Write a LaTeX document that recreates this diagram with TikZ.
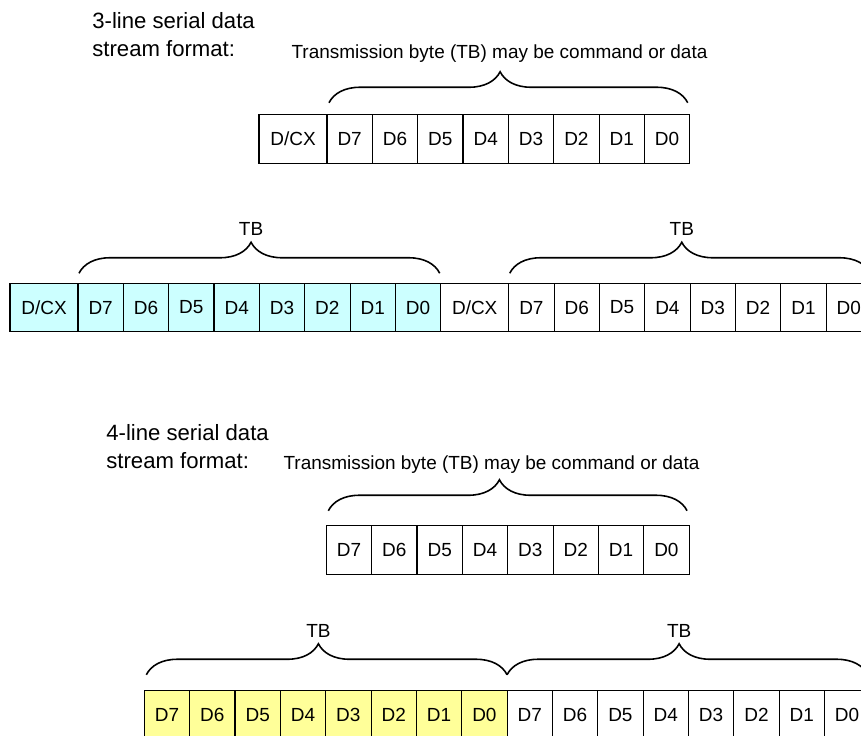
\documentclass[tikz,border=0pt]{standalone}
\usepackage{fontspec}
\setmainfont{Liberation Sans}
\usetikzlibrary{positioning, decorations.pathreplacing}

\definecolor{cyanbyte}{HTML}{CCFFFF}
\definecolor{yellowbyte}{HTML}{FFFF99}

\tikzset{
  bitcell/.style={draw, line width=0.6pt, minimum width=0.907cm, minimum height=0.97cm,
    inner sep=0pt, outer sep=0pt, font=\fontsize{10.8}{13}\selectfont},
  dcxcell/.style={bitcell, minimum width=1.36cm},
  tbbrace/.style={decorate, decoration={brace, amplitude=0.62cm, aspect=0.477}, line width=0.9pt},
  tblabel/.style={font=\fontsize{10.8}{13}\selectfont},
  streamtitle/.style={align=left, anchor=base west, inner sep=0pt, font=\fontsize{12.6}{16pt}\selectfont},
}

\begin{document}
\begin{tikzpicture}[x=0.02cm, y=-0.02cm]
            \useasboundingbox (0,0) rectangle (861,736);
            \clip (0,0) rectangle (861,736);
            % 3-line serial interface
            \node[streamtitle] (title3) at (92,56.7) {3-line serial data\\stream format:};
            \node[tblabel, anchor=base] (tb3) at (499.5,58.3) {Transmission byte (TB) may be command or data};
            \node[dcxcell] (a0) at (293,139) {D/CX};
            \foreach \d [count=\n] in {7,...,0} {
              \pgfmathtruncatemacro\p{\n-1}
              \node[bitcell, right=0pt of a\p] (a\n) {D\d};
            }
            \draw[tbbrace] ([shift={(2,-12)}]a1.north west) -- ([shift={(-2,-12)}]a8.north east);
            % two bytes, 3-line
            \node[dcxcell, fill=cyanbyte] (b0) at (44,307.5) {D/CX};
            \foreach \d [count=\n] in {7,...,0} {
              \pgfmathtruncatemacro\p{\n-1}
              \node[bitcell, fill=cyanbyte, right=0pt of b\p] (b\n) {D\d};
            }
            \node[dcxcell, right=0pt of b8] (b9) {D/CX};
            \foreach \d [count=\n from 10] in {7,...,0} {
              \pgfmathtruncatemacro\p{\n-1}
              \node[bitcell, right=0pt of b\p] (b\n) {D\d};
            }
            \draw[tbbrace] ([shift={(1,-10)}]b1.north west) --
              node[tblabel, pos=0.477, above=0.62cm] (tbl1) {TB} ([shift={(-1,-10)}]b8.north east);
            \draw[tbbrace] ([shift={(1,-10)}]b10.north west) --
              node[tblabel, pos=0.477, above=0.62cm] (tbl2) {TB} ([shift={(-1,-10)}]b17.north east);
            % 4-line serial interface
            \node[streamtitle] (title4) at (106,468.3) {4-line serial data\\stream format:};
            \node[tblabel, anchor=base] (tb4) at (491.5,469) {Transmission byte (TB) may be command or data};
            \node[bitcell] (c1) at (349,550) {D7};
            \foreach \d [count=\n from 2] in {6,...,0} {
              \pgfmathtruncatemacro\p{\n-1}
              \node[bitcell, right=0pt of c\p] (c\n) {D\d};
            }
            \draw[tbbrace] ([shift={(2,-15)}]c1.north west) -- ([shift={(-2,-15)}]c8.north east);
            % two bytes, 4-line
            \node[bitcell, fill=yellowbyte] (d1) at (167,715) {D7};
            \foreach \d [count=\n from 2] in {6,...,0} {
              \pgfmathtruncatemacro\p{\n-1}
              \node[bitcell, fill=yellowbyte, right=0pt of d\p] (d\n) {D\d};
            }
            \foreach \d [count=\n from 9] in {7,...,0} {
              \pgfmathtruncatemacro\p{\n-1}
              \node[bitcell, right=0pt of d\p] (d\n) {D\d};
            }
            \draw[tbbrace] ([shift={(2,-16)}]d1.north west) --
              node[tblabel, pos=0.477, above=0.62cm] (tbl3) {TB} ([shift={(0,-16)}]d8.north east);
            \draw[tbbrace] ([shift={(0,-16)}]d9.north west) --
              node[tblabel, pos=0.477, above=0.62cm] (tbl4) {TB} ([shift={(-2,-16)}]d16.north east);
        \end{tikzpicture}
\end{document}
